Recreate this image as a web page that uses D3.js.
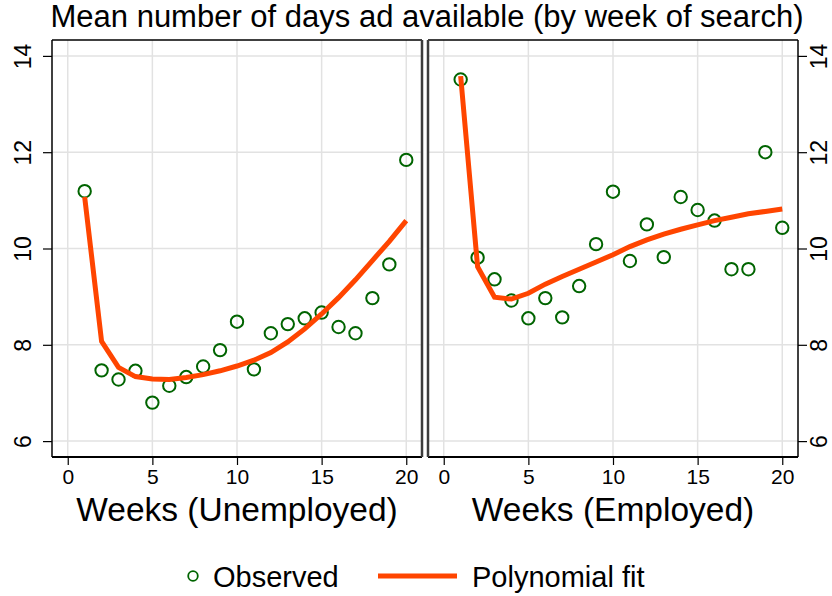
<!DOCTYPE html>
<html>
<head>
<meta charset="utf-8">
<script src="https://cdn.jsdelivr.net/npm/d3@7"></script>
<style>
  body { margin: 0; background: #fff; }
  svg { font-family: "Liberation Sans", Arial, sans-serif; }
</style>
</head>
<body>
<svg id="chart" width="832" height="596"></svg>
<script>
// data
const weeks = [1,2,3,4,5,6,7,8,9,10,11,12,13,14,15,16,17,18,19,20]
const unempObs = [11.19,7.47,7.28,7.46,6.80,7.15,7.33,7.55,7.89,8.48,7.49,8.24,8.43,8.55,8.67,8.37,8.24,8.97,9.67,11.84]
const unempFit = [11.07,8.07,7.53,7.34,7.29,7.28,7.32,7.38,7.46,7.56,7.68,7.84,8.06,8.33,8.64,8.98,9.35,9.75,10.15,10.58]
const empObs = [13.51,9.81,9.36,8.92,8.55,8.97,8.57,9.22,10.09,11.18,9.74,10.50,9.82,11.07,10.80,10.58,9.57,9.57,12.00,10.43]
const empFit = [13.58,9.62,8.99,8.95,9.07,9.26,9.42,9.57,9.72,9.87,10.04,10.18,10.30,10.40,10.49,10.58,10.65,10.72,10.77,10.82]
const xTicks = [0,5,10,15,20]
const yTicks = [6,8,10,12,14]

const panels = [
  {name: "Weeks (Unemployed)", obs: unempObs, fit: unempFit, left: 52, right: 422, axis: "left"},
  {name: "Weeks (Employed)", obs: empObs, fit: empFit, left: 428, right: 798, axis: "right"}
]

const plotTop = 40, plotBottom = 457
const green = "#006400", orange = "#ff4500", gridCol = "#e2e2e2"

const svg = d3.select("#chart")

svg.append("text")
  .attr("x", 427).attr("y", 27)
  .attr("text-anchor", "middle")
  .style("font-size", "31px")
  .text("Mean number of days ad available (by week of search)")

const y = d3.scaleLinear().domain([5.67, 14.33]).range([plotBottom, plotTop])

panels.forEach(p => {
  const x = d3.scaleLinear().domain([-0.93, 20.93]).range([p.left, p.right])
  const g = svg.append("g")

  // grid
  g.append("g").selectAll("line").data(yTicks).join("line")
    .attr("x1", p.left).attr("x2", p.right)
    .attr("y1", d => y(d)).attr("y2", d => y(d))
    .attr("stroke", gridCol).attr("stroke-width", 1.5)
  g.append("g").selectAll("line").data(xTicks).join("line")
    .attr("x1", d => x(d)).attr("x2", d => x(d))
    .attr("y1", plotTop).attr("y2", plotBottom)
    .attr("stroke", gridCol).attr("stroke-width", 1.5)

  // x axis
  const xa = g.append("g")
    .attr("transform", `translate(0,${plotBottom})`)
    .call(d3.axisBottom(x).tickValues(xTicks).tickSize(8).tickPadding(4))
  xa.select(".domain").remove()
  xa.selectAll("line").attr("stroke", "#000").attr("stroke-width", 1.2)
  xa.selectAll("text").attr("font-family", null).style("font-size", "21px").attr("fill", "#000")

  // y axis, labels rotated
  const ya = g.append("g")
  if (p.axis == "left") {
    ya.attr("transform", `translate(${p.left},0)`)
      .call(d3.axisLeft(y).tickValues(yTicks).tickSize(9))
  } else {
    ya.attr("transform", `translate(${p.right},0)`)
      .call(d3.axisRight(y).tickValues(yTicks).tickSize(9))
  }
  ya.select(".domain").remove()
  ya.selectAll("line").attr("stroke", "#000").attr("stroke-width", 1.2)
  const lx = p.axis == "left" ? -29 : 21
  ya.selectAll("text")
    .attr("font-family", null)
    .style("font-size", "23px")
    .attr("fill", "#000")
    .attr("x", null).attr("dy", null)
    .attr("text-anchor", "middle")
    .attr("transform", `translate(${lx},0) rotate(-90) translate(0,8)`)

  // frame
  g.append("line").attr("x1", p.left).attr("x2", p.right).attr("y1", plotTop).attr("y2", plotTop)
    .attr("stroke", "#000").attr("stroke-width", 1.3)
  g.append("line").attr("x1", p.left).attr("x2", p.right).attr("y1", plotBottom).attr("y2", plotBottom)
    .attr("stroke", "#000").attr("stroke-width", 2)
  const outerX = p.axis == "left" ? p.left : p.right
  const innerX = p.axis == "left" ? p.right : p.left
  g.append("line").attr("x1", outerX).attr("x2", outerX).attr("y1", plotTop).attr("y2", plotBottom)
    .attr("stroke", "#000").attr("stroke-width", 1.5)
  g.append("line").attr("x1", innerX).attr("x2", innerX).attr("y1", plotTop).attr("y2", plotBottom)
    .attr("stroke", "#3c3c3c").attr("stroke-width", 2.5)

  // observed points
  g.append("g").selectAll("circle").data(weeks).join("circle")
    .attr("cx", (d, i) => x(d))
    .attr("cy", (d, i) => y(p.obs[i]))
    .attr("r", 6.2)
    .attr("fill", "none")
    .attr("stroke", green)
    .attr("stroke-width", 2)

  // fit line
  const line = d3.line().x((d, i) => x(weeks[i])).y(d => y(d))
  g.append("path").datum(p.fit)
    .attr("d", line)
    .attr("fill", "none")
    .attr("stroke", orange)
    .attr("stroke-width", 5)

  // x title
  g.append("text")
    .attr("x", (p.left + p.right) / 2).attr("y", 521)
    .attr("text-anchor", "middle")
    .style("font-size", "33.5px")
    .text(p.name)
})

// legend
const leg = svg.append("g")
leg.append("circle").attr("cx", 193).attr("cy", 576).attr("r", 4.8)
  .attr("fill", "none").attr("stroke", green).attr("stroke-width", 1.8)
leg.append("text").attr("x", 213).attr("y", 587).style("font-size", "29px").text("Observed")
leg.append("line").attr("x1", 378).attr("x2", 457).attr("y1", 576).attr("y2", 576)
  .attr("stroke", orange).attr("stroke-width", 5)
leg.append("text").attr("x", 472).attr("y", 587).style("font-size", "29px").text("Polynomial fit")
</script>
</body>
</html>
